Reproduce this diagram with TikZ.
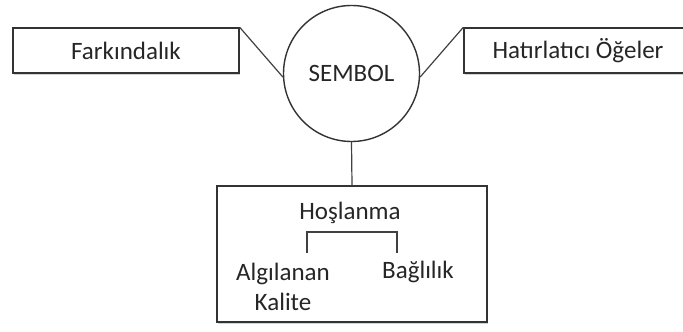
\documentclass[tikz,border=0pt]{standalone}
\usepackage{fontspec}
\setmainfont{Carlito}
\usetikzlibrary{shapes,arrows,positioning,shadows}

\begin{document}
\begin{tikzpicture}[
    x=0.5pt, y=-0.5pt,
    box/.style={
        draw=black!80,
        line width=0.7pt,
        fill=white,
        inner sep=0pt,
        drop shadow={shadow xshift=0.4pt, shadow yshift=-1pt, opacity=0.35}
    },
    txt/.style={
        font=\fontsize{12.5}{15}\selectfont,
        text=black!85,
        align=center
    },
    wire/.style={
        draw=black!75,
        line width=0.6pt
    }
]
                \useasboundingbox (0,0) rectangle (683,331);

                \node[
                    box, txt,
                    minimum width=113pt,
                    minimum height=22.5pt
                ] (farkindalik) at (126,50.5) {Farkındalık};

                \node[
                    box, txt,
                    minimum width=114pt,
                    minimum height=22.5pt
                ] (hatirlatici) at (578,50.5) {Hatırlatıcı Öğeler};

                \node[
                    circle,
                    draw=black!80,
                    line width=0.7pt,
                    fill=white,
                    minimum size=68pt,
                    txt
                ] (sembol) at (351.5,73.5) {SEMBOL};

                \node[
                    box,
                    minimum width=135pt,
                    minimum height=68pt
                ] (hoslanmakutu) at (352,254) {};

                \node[txt] (hoslanma) at (350,213) {Hoşlanma};
                \node[txt] (kalite) at (283,287) {Algılanan\\Kalite};
                \node[txt] (baglilik) at (418,272) {Bağlılık};

                \coordinate (ucsol) at (307,253);
                \coordinate (ucsag) at (397,253);

                \draw[wire] (farkindalik.north east) -- (sembol.183);
                \draw[wire] (hatirlatici.north west) -- (sembol.-3);
                \draw[wire] (sembol.south) -- (hoslanmakutu.north);
                \draw[wire] (ucsol) -- ++(0,-21) -| (ucsag);

            \end{tikzpicture}
\end{document}
